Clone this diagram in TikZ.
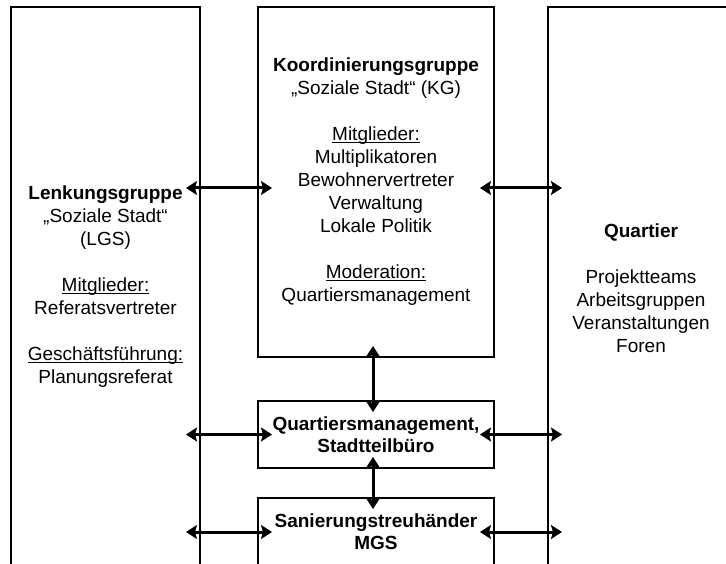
\documentclass[tikz,border=0pt]{standalone}
\usepackage{fontspec}
\setmainfont{Liberation Sans}
\usetikzlibrary{arrows.meta}
\newcommand{\unterstr}[1]{\underline{\smash{#1}}}
\tikzset{
	feld/.style={draw,line width=2pt,inner sep=0pt,align=center,font=\fontsize{19}{23}\selectfont},
	pfeil/.style={line width=3pt,{Stealth[length=11pt,width=14pt,inset=2pt]}-{Stealth[length=11pt,width=14pt,inset=2pt]},shorten <=-15pt,shorten >=-15pt}
}

\begin{document}
\begin{tikzpicture}[x=1pt,y=-1pt]
				\def\yo{188};
				\useasboundingbox (0,0) rectangle (726,564);
				\clip (0,0) rectangle (726,564);
				\node[feld,minimum width=189pt,minimum height=560pt] (lgs) at (105.5,287)
				{\textbf{Lenkungsgruppe}\\„Soziale Stadt“\\(LGS)\\[23pt]\unterstr{Mitglieder:}\\Referatsvertreter\\[23pt]\unterstr{Geschäftsführung:}\\Planungsreferat};
				\node[feld,minimum width=236pt,minimum height=350pt] (kg) at (376,182)
				{\textbf{Koordinierungsgruppe}\\„Soziale Stadt“ (KG)\\[23pt]\unterstr{Mitglieder:}\\Multiplikatoren\\Bewohnervertreter\\Verwaltung\\Lokale Politik\\[23pt]\unterstr{Moderation:}\\Quartiersmanagement};
				\node[feld,minimum width=186pt,minimum height=563pt] (quar) at (641,288.5)
				{\textbf{Quartier}\\[23pt]Projektteams\\Arbeitsgruppen\\Veranstaltungen\\Foren};
				\node[feld,minimum width=236pt,minimum height=67pt,font=\fontsize{19}{22}\selectfont\bfseries] (qm) at (376,434.5)
				{Quartiersmanagement,\\Stadtteilbüro};
				\node[feld,minimum width=236pt,minimum height=68pt,font=\fontsize{19}{22}\selectfont\bfseries] (mgs) at (376,532)
				{Sanierungstreuhänder\\MGS};
				% Verbindungen
				\draw[pfeil] (lgs.east |- 0,\yo) -- (kg.west |- 0,\yo);
				\draw[pfeil] (kg.east |- 0,\yo) -- (quar.west |- 0,\yo);
				\draw[pfeil,shorten <=-12pt,shorten >=-12pt] ([xshift=-3pt]kg.south) -- ([xshift=-3pt]qm.north);
				\draw[pfeil] (lgs.east |- qm.west) -- (qm.west);
				\draw[pfeil] (qm.east) -- (quar.west |- qm.east);
				\draw[pfeil,shorten <=-12pt,shorten >=-12pt] ([xshift=-3pt]qm.south) -- ([xshift=-3pt]mgs.north);
				\draw[pfeil] (lgs.east |- mgs.west) -- (mgs.west);
				\draw[pfeil] (mgs.east) -- (quar.west |- mgs.east);
			\end{tikzpicture}
\end{document}
